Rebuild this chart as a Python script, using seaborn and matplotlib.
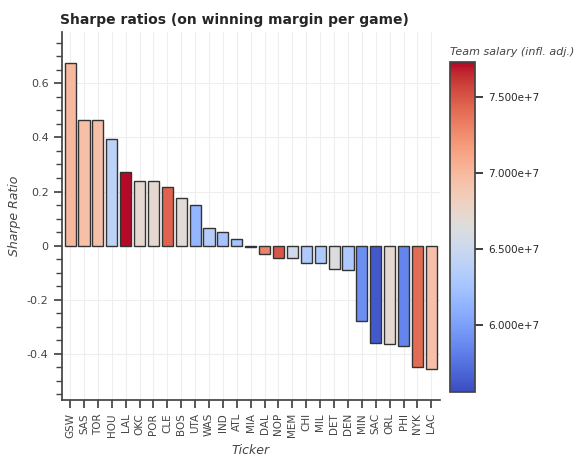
import matplotlib
matplotlib.use("Agg")
import matplotlib.pyplot as plt
import numpy as np
import pandas as pd
import seaborn as sns

tickers = ["GSW", "SAS", "TOR", "HOU", "LAL", "OKC", "POR", "CLE", "BOS", "UTA",
           "WAS", "IND", "ATL", "MIA", "DAL", "NOP", "MEM", "CHI", "MIL", "DET",
           "DEN", "MIN", "SAC", "ORL", "PHI", "NYK", "LAC"]
sharpe = [0.675, 0.465, 0.465, 0.395, 0.272, 0.240, 0.238, 0.218, 0.175, 0.152,
          0.065, 0.052, 0.025, -0.005, -0.030, -0.045, -0.045, -0.065, -0.065, -0.085,
          -0.090, -0.280, -0.360, -0.365, -0.370, -0.450, -0.455]
salary = [7.00e7, 6.95e7, 6.95e7, 6.40e7, 7.72e7, 6.72e7, 6.72e7, 7.45e7, 6.68e7, 6.15e7,
          6.35e7, 6.25e7, 6.25e7, 6.70e7, 7.30e7, 7.50e7, 6.55e7, 6.30e7, 6.30e7, 6.65e7,
          6.30e7, 5.90e7, 5.62e7, 6.72e7, 5.85e7, 7.40e7, 6.95e7]

df = pd.DataFrame({"Ticker": tickers, "Sharpe": sharpe, "Salary": salary})

sns.set_theme(style="white")
fig = plt.figure(figsize=(5.77, 4.76), dpi=100)
ax = fig.add_axes([0.107, 0.16, 0.655, 0.773])
cax = fig.add_axes([0.78, 0.176, 0.043, 0.694])

cmap = plt.get_cmap("coolwarm")
norm = matplotlib.colors.Normalize(vmin=5.56e7, vmax=7.73e7)
sns.barplot(data=df, x="Ticker", y="Sharpe", ax=ax, width=0.8,
            edgecolor="#333333", linewidth=1.0)
for patch, s in zip(ax.patches, df["Salary"]):
    patch.set_facecolor(cmap(norm(s)))

ax.set_ylim(-0.57, 0.79)
ax.set_xlim(-0.6, 26.6)
ax.set_yticks([-0.4, -0.2, 0, 0.2, 0.4, 0.6])
ax.set_yticklabels(["-0.4", "-0.2", "0", "0.2", "0.4", "0.6"], fontsize=8, color="#444444")
ax.minorticks_on()
ax.tick_params(axis="x", which="minor", bottom=False)
ax.tick_params(axis="y", which="both", left=True, color="#444444")
ax.tick_params(axis="x", rotation=90, labelsize=7.5, colors="#444444", bottom=True)
ax.grid(True, axis="both", color="#eeeeee", linewidth=0.8)
ax.set_axisbelow(True)
for side in ["top", "right"]:
    ax.spines[side].set_visible(False)
for side in ["left", "bottom"]:
    ax.spines[side].set_color("#444444")
ax.set_xlabel("Ticker", fontstyle="italic", fontsize=9, color="#444444")
ax.set_ylabel("Sharpe Ratio", fontstyle="italic", fontsize=9, color="#444444")
ax.set_title("Sharpe ratios (on winning margin per game)", fontsize=10,
             fontweight="bold", loc="left", x=-0.005)

sm = matplotlib.cm.ScalarMappable(norm=norm, cmap=cmap)
cb = fig.colorbar(sm, cax=cax, ticks=[6.0e7, 6.5e7, 7.0e7, 7.5e7])
cb.ax.set_yticklabels(["6.000e+7", "6.500e+7", "7.000e+7", "7.500e+7"], fontsize=7.5)
cb.outline.set_edgecolor("#444444")
fig.text(0.78, 0.885, "Team salary (infl. adj.)", fontstyle="italic", fontsize=8,
         color="#444444", clip_on=False)

fig.savefig("out.png", dpi=100)
